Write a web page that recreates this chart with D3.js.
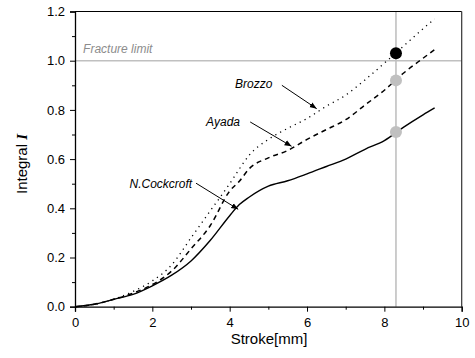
<!DOCTYPE html>
<html><head><meta charset="utf-8">
<script src="https://cdn.jsdelivr.net/npm/d3@7"></script>
<style>body{margin:0;background:#fff}svg{display:block}</style>
</head><body><div id="chart"></div>
<script>
// ---- data ----
const stroke = [0,0.5,1,1.5,2,2.5,3,3.5,4,4.25,4.5,5,5.5,6,6.5,7,7.5,8,8.5,9,9.3];
const cockcroft = [0,0.01,0.03,0.05,0.085,0.128,0.186,0.27,0.37,0.415,0.445,0.49,0.512,0.54,0.57,0.6,0.64,0.675,0.73,0.78,0.808];
const ayada = [0,0.01,0.03,0.055,0.09,0.145,0.235,0.33,0.47,0.51,0.56,0.605,0.635,0.68,0.72,0.76,0.82,0.88,0.95,1.01,1.045];
const brozzo = [0,0.01,0.03,0.062,0.105,0.17,0.28,0.39,0.5,0.56,0.615,0.68,0.725,0.765,0.815,0.86,0.922,0.99,1.06,1.13,1.17];
const fractureLimit = 1.0;
const fractureStroke = 8.3;
const markerValues = [1.03, 0.92, 0.71];
const markerFill = ["#000","#c0c0c0","#c0c0c0"];
const xTicks = [0,2,4,6,8,10];
const yTicks = [0.0,0.2,0.4,0.6,0.8,1.0,1.2];
const labelNames = ["Brozzo","Ayada","N.Cockcroft"];
// annotation anchors in data units: [textX, textY, arrowX1, arrowY1, arrowX2, arrowY2]
const labelAnchors = [[4.14,0.889,5.35,0.900,6.25,0.805],[3.39,0.733,4.53,0.751,5.60,0.652],[3.03,0.483,3.13,0.502,4.22,0.396]];

// ---- layout ----
const W=475,H=358;
const m={l:75,t:11.5,r:475-461.7,b:358-306.7};
const svg=d3.select("#chart").append("svg").attr("width",W).attr("height",H);
const x=d3.scaleLinear().domain([0,10]).range([m.l,W-m.r]);
const y=d3.scaleLinear().domain([0,1.2]).range([H-m.b,m.t]);
const font="'Liberation Sans', Arial, sans-serif";

svg.append("defs").append("marker").attr("id","ah").attr("viewBox","0 0 10 10")
  .attr("refX",10).attr("refY",5).attr("markerWidth",7).attr("markerHeight",7)
  .attr("markerUnits","userSpaceOnUse").attr("orient","auto")
  .append("path").attr("d","M0,1 L10,5 L0,9 Z").attr("fill","#000");

// grey reference lines
svg.append("line").attr("x1",x(0)).attr("x2",x(10)).attr("y1",y(fractureLimit)).attr("y2",y(fractureLimit))
  .attr("stroke","#c0c0c0").attr("stroke-width",1.6);
svg.append("line").attr("x1",x(fractureStroke)).attr("x2",x(fractureStroke)).attr("y1",y(0)).attr("y2",y(1.2))
  .attr("stroke","#c0c0c0").attr("stroke-width",1.6);

// frame top/right
svg.append("line").attr("x1",x(0)).attr("x2",x(10)).attr("y1",y(1.2)).attr("y2",y(1.2)).attr("stroke","#000").attr("stroke-width",1.2);
svg.append("line").attr("x1",x(10)).attr("x2",x(10)).attr("y1",y(0)).attr("y2",y(1.2)).attr("stroke","#333").attr("stroke-width",1.2);

// axes
function styleAxis(g){g.selectAll("path.domain").attr("stroke","#000").attr("stroke-width",1.3);
  g.selectAll(".tick line").attr("stroke","#000").attr("stroke-width",1);
  g.selectAll("text").attr("font-family",font).attr("font-size",13).attr("fill","#000");}
const gx=svg.append("g").attr("transform",`translate(0,${y(0)})`)
  .call(d3.axisBottom(x).tickValues(xTicks).tickFormat(d3.format("d")).tickSize(5).tickPadding(6));
styleAxis(gx);
const gxm=svg.append("g").attr("transform",`translate(0,${y(0)})`)
  .call(d3.axisBottom(x).tickValues(d3.range(1,10,2)).tickFormat("").tickSize(3));
gxm.select("path.domain").remove(); gxm.selectAll(".tick line").attr("stroke","#000");
const gy=svg.append("g").attr("transform",`translate(${x(0)},0)`)
  .call(d3.axisLeft(y).tickValues(yTicks).tickFormat(d3.format(".1f")).tickSize(5).tickPadding(5));
styleAxis(gy);
const gym=svg.append("g").attr("transform",`translate(${x(0)},0)`)
  .call(d3.axisLeft(y).tickValues(d3.range(0.1,1.2,0.2)).tickFormat("").tickSize(3));
gym.select("path.domain").remove(); gym.selectAll(".tick line").attr("stroke","#000");

// curves
const line=d3.line().x((d,i)=>x(stroke[i])).y(d=>y(d)).curve(d3.curveMonotoneX);
svg.append("path").datum(cockcroft).attr("d",line).attr("fill","none").attr("stroke","#000").attr("stroke-width",1.4);
svg.append("path").datum(ayada).attr("d",line).attr("fill","none").attr("stroke","#000").attr("stroke-width",1.5).attr("stroke-dasharray","5,4");
svg.append("path").datum(brozzo).attr("d",line).attr("fill","none").attr("stroke","#000").attr("stroke-width",1.3).attr("stroke-dasharray","1.2,4.3");

// markers
svg.selectAll("circle.mk").data(markerValues).join("circle").attr("class","mk")
  .attr("cx",x(fractureStroke)).attr("cy",d=>y(d)).attr("r",6).attr("fill",(d,i)=>markerFill[i]);

// annotations
svg.append("text").attr("x",x(0.21)).attr("y",y(1.031)).text("Fracture limit")
  .attr("font-family",font).attr("font-size",12).attr("font-style","italic").attr("fill","#8c8c8c");
labelNames.forEach((n,i)=>{
  const a=labelAnchors[i];
  svg.append("text").attr("x",x(a[0])).attr("y",y(a[1])).text(n)
    .attr("text-anchor",i===2?"end":"start")
    .attr("font-family",font).attr("font-size",12).attr("font-style","italic").attr("fill","#000");
  svg.append("line").attr("x1",x(a[2])).attr("y1",y(a[3])).attr("x2",x(a[4])).attr("y2",y(a[5]))
    .attr("stroke","#000").attr("stroke-width",1).attr("marker-end","url(#ah)");
});

// axis titles
svg.append("text").attr("x",269).attr("y",344).attr("text-anchor","middle")
  .attr("font-family",font).attr("font-size",15).text("Stroke[mm]");
const yt=svg.append("text").attr("transform","translate(26.5,164) rotate(-90)").attr("text-anchor","middle")
  .attr("font-family",font).attr("font-size",15);
yt.append("tspan").text("Integral ");
yt.append("tspan").attr("font-family","'Liberation Serif', serif").attr("font-weight","bold").attr("font-style","italic").text("I");
</script></body></html>
